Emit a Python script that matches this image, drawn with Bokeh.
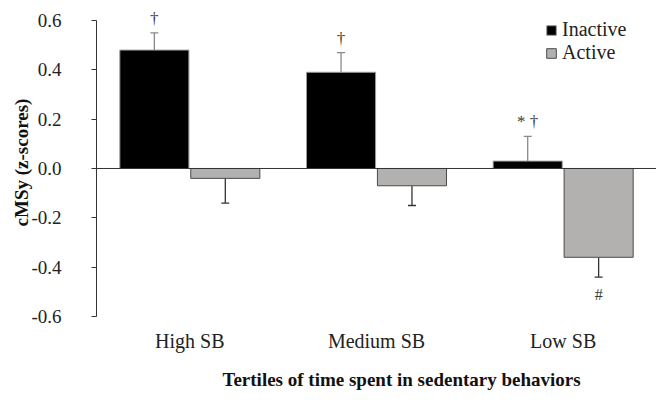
from bokeh.plotting import figure
from bokeh.models import (ColumnDataSource, FactorRange, Range1d, FixedTicker,
                          PrintfTickFormatter, Span, Whisker, TeeHead, Title)
from bokeh.transform import dodge
from bokeh.core.properties import value
from bokeh.embed import file_html
from bokeh.resources import INLINE

# ---------------- data ----------------
categories = ["High SB", "Medium SB", "Low SB"]
inactive = [0.48, 0.39, 0.03]
active = [-0.04, -0.07, -0.36]
inactive_err = [0.07, 0.08, 0.10]
active_err = [0.10, 0.08, 0.08]
inactive_marks = ["\u2020", "\u2020", "* \u2020"]
active_marks = ["", "", "#"]
y_ticks = [-0.6, -0.4, -0.2, 0.0, 0.2, 0.4, 0.6]
series_names = ["Inactive", "Active"]
x_title = "Tertiles of time spent in sedentary behaviors"
y_title = "cMSy (z-scores)"

FONT = "Liberation Serif"

src = ColumnDataSource(dict(
    cat=categories,
    inactive=inactive,
    active=active,
    zero=[0.0] * len(categories),
    in_hi=[v + e for v, e in zip(inactive, inactive_err)],
    ac_lo=[v - e for v, e in zip(active, active_err)],
    in_mark=inactive_marks,
    ac_mark=active_marks,
))

p = figure(x_range=FactorRange(*categories), y_range=Range1d(-0.6, 0.6486),
           width=656, height=402, output_backend="svg", toolbar_location=None,
           min_border_left=96, min_border_right=0, min_border_top=8,
           min_border_bottom=86)
p.outline_line_color = None
p.xgrid.visible = False
p.ygrid.visible = False
p.background_fill_color = "white"
p.border_fill_color = "white"

off = 0.19
w = 0.37

p.vbar(x=dodge("cat", -off, range=p.x_range), top="inactive", bottom="zero", width=w,
       source=src, fill_color="#000000", line_color="#9a9a9a", line_width=1,
       legend_label=series_names[0])
p.vbar(x=dodge("cat", off, range=p.x_range), top="zero", bottom="active", width=w,
       source=src, fill_color="#b3b0b0", line_color="#4a4a4a", line_width=1,
       legend_label=series_names[1])

# zero line
p.add_layout(Span(location=0, dimension="width", line_color="#333333", line_width=1))

# error bars
wk1 = Whisker(base=dodge("cat", -off, range=p.x_range), lower="inactive", upper="in_hi",
              source=src, line_color="#8a8a8a", line_width=1.3,
              upper_head=TeeHead(size=8, line_color="#8a8a8a", line_width=1.3),
              lower_head=None)
wk2 = Whisker(base=dodge("cat", off, range=p.x_range), lower="ac_lo", upper="active",
              source=src, line_color="#333333", line_width=1.3,
              lower_head=TeeHead(size=8, line_color="#333333", line_width=1.3),
              upper_head=None)
p.add_layout(wk1)
p.add_layout(wk2)

# significance marks
p.text(x=dodge("cat", -off, range=p.x_range), y="in_hi", text="in_mark", source=src,
       text_font=value(FONT), text_font_size="17px", text_color="#3a3a3a",
       text_align="center", text_baseline="bottom", y_offset=-5)
p.text(x=dodge("cat", off, range=p.x_range), y="ac_lo", text="ac_mark", source=src,
       text_font=value(FONT), text_font_size="16px", text_color="#3a3a3a",
       text_align="center", text_baseline="top", y_offset=9)

# y axis
ya = p.yaxis[0]
ya.ticker = FixedTicker(ticks=y_ticks)
ya.formatter = PrintfTickFormatter(format="%.1f")
ya.bounds = (-0.6, 0.6)
ya.axis_line_color = "#333333"
ya.major_tick_line_color = "#333333"
ya.major_tick_out = 5
ya.major_tick_in = 0
ya.minor_tick_line_color = None
ya.major_label_text_font = FONT
ya.major_label_text_font_size = "19px"
ya.major_label_text_color = "#222222"
ya.major_label_standoff = 30
ya.axis_label = y_title
ya.axis_label_text_font = FONT
ya.axis_label_text_font_size = "19px"
ya.axis_label_text_font_style = "bold"
ya.axis_label_text_color = "#111111"
ya.axis_label_standoff = -4

# x axis
xa = p.xaxis[0]
xa.axis_line_color = None
xa.major_tick_line_color = None
xa.minor_tick_line_color = None
xa.major_tick_out = 0
xa.major_label_text_font = FONT
xa.major_label_text_font_size = "20px"
xa.major_label_text_color = "#222222"
xa.major_label_standoff = 13

# x-axis title (offset to the right, as in the original)
p.add_layout(Title(text=x_title, align="left", offset=126, standoff=24,
                   text_font=FONT, text_font_size="19px", text_font_style="bold",
                   text_color="#111111"), "below")

# legend
lg = p.legend[0]
lg.location = (449, 252)
lg.orientation = "vertical"
lg.glyph_width = 12
lg.glyph_height = 12
lg.label_text_font = FONT
lg.label_text_font_size = "20px"
lg.label_text_color = "#222222"
lg.label_standoff = 5
lg.label_height = 23
lg.spacing = 0
lg.padding = 0
lg.margin = 0
lg.background_fill_alpha = 0
lg.border_line_color = None

open("out.html", "w").write(file_html(p, INLINE))
